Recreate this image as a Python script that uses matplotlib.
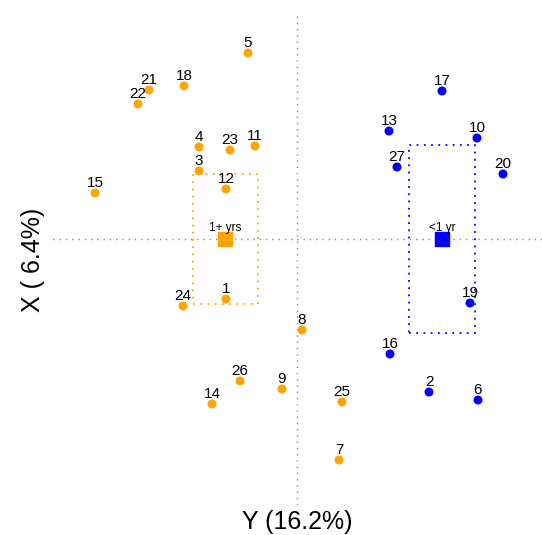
import numpy as np
import matplotlib.pyplot as plt
from matplotlib.patches import Rectangle

plt.rcParams['font.family'] = ['Liberation Sans', 'DejaVu Sans']

# respondent scores on the two dimensions
ids = [str(i) for i in range(1, 28)]
xs = [-0.71, 1.32, -0.98, -0.98, -0.49, 1.81, 0.42, 0.05, -0.15, 1.80,
      -0.42, -0.71, 0.92, -0.85, -2.02, 0.93, 1.45, -1.13, 1.73, 2.06,
      -1.48, -1.59, -0.67, -1.14, 0.45, -0.57, 1.00]
ys = [-0.60, -1.53, 0.68, 0.92, 1.86, -1.61, -2.21, -0.91, -1.50, 1.01,
      0.93, 0.50, 1.08, -1.65, 0.46, -1.15, 1.48, 1.53, -0.64, 0.65,
      1.49, 1.35, 0.89, -0.67, -1.63, -1.42, 0.72]
group = ['1+', '<1', '1+', '1+', '1+', '<1', '1+', '1+', '1+', '<1',
         '1+', '1+', '<1', '1+', '1+', '<1', '<1', '1+', '<1', '<1',
         '1+', '1+', '1+', '1+', '1+', '1+', '<1']

# group centroids and their spread boxes
grp_keys = ['1+', '<1']
grp_names = ['1+ yrs', '<1 yr']
grp_cx = [-0.72, 1.45]
grp_cy = [0.00, 0.00]
box_x0 = [-1.04, 1.12]
box_x1 = [-0.39, 1.78]
box_y0 = [-0.65, -0.94]
box_y1 = [0.65, 0.94]
grp_col = {'1+': '#FFA500', '<1': '#0000FF'}

fig = plt.figure(figsize=(5.42, 5.35), dpi=100)
ax = fig.add_axes([53 / 542, 30 / 535, 489 / 542, 490 / 535])
ax.set_xlim(-2.44, 2.45)
ax.set_ylim(-2.66, 2.24)
ax.axis('off')

ax.axhline(0, color='#888888', ls=(0, (1, 3.5)), lw=1.0)
ax.axvline(0, color='#888888', ls=(0, (1, 3.5)), lw=1.0)

for k, name, cx, cy, x0, x1, y0, y1 in zip(grp_keys, grp_names, grp_cx, grp_cy,
                                           box_x0, box_x1, box_y0, box_y1):
    c = grp_col[k]
    ax.add_patch(Rectangle((x0, y0), x1 - x0, y1 - y0, fill=False,
                           edgecolor=c, ls=(0, (1, 3)), lw=1.3))
    ax.scatter([cx], [cy], marker='s', s=100, color=c, zorder=3)
    ax.annotate(name, (cx, cy), xytext=(0, 5.8), textcoords='offset points',
                ha='center', va='baseline', fontsize=8.5)

cols = [grp_col[g] for g in group]
ax.scatter(xs, ys, s=42, color=cols, zorder=3, linewidths=0)
for lab, x, y in zip(ids, xs, ys):
    ax.annotate(lab, (x, y), xytext=(0, 4.5), textcoords='offset points',
                ha='center', va='baseline', fontsize=11)

fig.text(297 / 542, 1 - 522 / 535, 'Y (16.2%)', ha='center', va='center',
         fontsize=18)
fig.text(33 / 542, 1 - 260 / 535, 'X ( 6.4%)', ha='center', va='center',
         fontsize=18, rotation=90)

fig.savefig('out.png', dpi=100)
